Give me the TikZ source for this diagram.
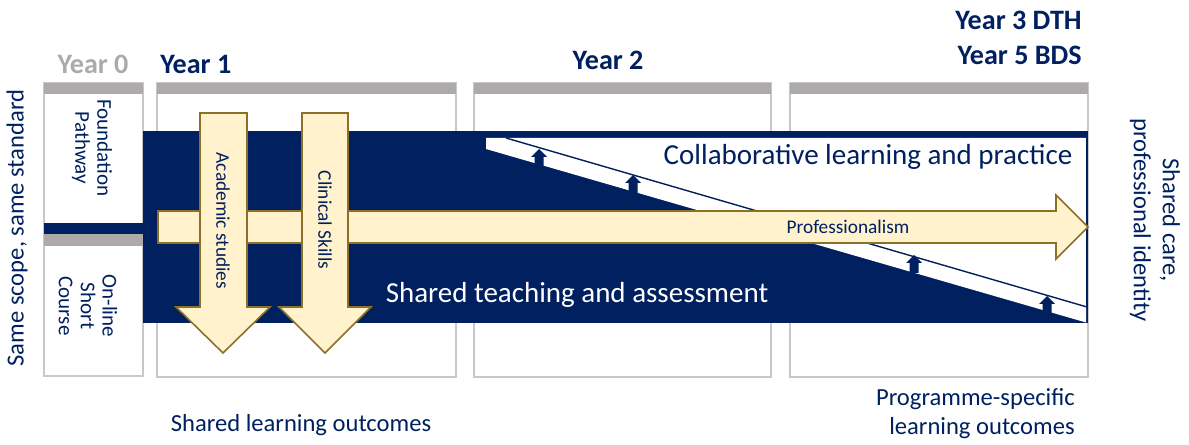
\documentclass[tikz,border=0pt]{standalone}
\usepackage{fontspec}
\setmainfont{Carlito}
\usepackage{tikz}
\usetikzlibrary{positioning,calc}
\definecolor{navy}{RGB}{0,32,96}
\definecolor{bargray}{RGB}{174,170,170}
\definecolor{boxgray}{RGB}{200,200,200}
\definecolor{cream}{RGB}{255,242,204}
\definecolor{goldline}{RGB}{140,112,40}

\begin{document}
\begin{tikzpicture}[
    x=0.02cm, y=-0.02cm,
    yearbox/.style={draw=boxgray, fill=white, line width=0.6pt},
    yearbar/.style={fill=bargray},
    yearlabel/.style={font=\fontsize{16}{19}\selectfont\bfseries, text=navy, inner sep=0pt},
    sidetext/.style={font=\fontsize{14}{16.5}\selectfont, text=navy, align=center, inner sep=0pt},
    boxtext/.style={font=\fontsize{12}{12.5}\selectfont, text=navy, align=center, inner sep=0pt},
    bandtext/.style={font=\fontsize{16.5}{19}\selectfont, inner sep=0pt},
    arrowtext/.style={font=\fontsize{11}{13}\selectfont, text=navy, inner sep=0pt},
    blockarrow/.style={fill=cream, draw=goldline, line width=0.9pt, line join=miter},
    uparrow/.style={fill=navy}
]
\useasboundingbox (0,0) rectangle (1189,445);

% Year columns
\draw[yearbox] (44,83) rectangle (143,376);
\draw[yearbox] (157,83) rectangle (456,377);
\draw[yearbox] (474,83) rectangle (771,377);
\draw[yearbox] (790,83) rectangle (1088,377);
\fill[yearbar] (44,83) rectangle (143,94);
\fill[yearbar] (157,83) rectangle (456,94);
\fill[yearbar] (474,83) rectangle (771,94);
\fill[yearbar] (790,83) rectangle (1088,94);

% Year 0 split
\fill[navy] (44,223) rectangle (143,234);
\fill[bargray] (44,234) rectangle (143,246);

% Shared band and collaborative wedge
\fill[navy] (143,131) rectangle (1088,323);
\fill[white] (486,138) -- (1086,138) -- (1086,322.5) -- (486,149) -- cycle;
\draw[navy, line width=1.2pt] (1087,131) -- (1087,307);
\draw[navy, line width=0.8pt] (506,138) -- (1087,307);
\foreach \tx/\ty in {539/149, 633/175, 914/255, 1047/296}
  \fill[uparrow] (\tx,\ty) -- ++(8,8) -- ++(-3.5,0) -- ++(0,10) -- ++(-9,0)
    -- ++(0,-10) -- ++(-3.5,0) -- cycle;

% Year labels
\node[yearlabel, text=bargray, anchor=base] (yr0) at (93,74) {Year 0};
\node[yearlabel, anchor=base west] (yr1) at (160,74) {Year 1};
\node[yearlabel, anchor=base] (yr2) at (608,70) {Year 2};
\node[yearlabel, anchor=base east] (yr3) at (1082,30) {Year 3 DTH};
\node[yearlabel, anchor=base east] (yr5) at ($(yr3.base east)+(0,35)$) {Year 5 BDS};

% Year 0 boxes
\node[boxtext, rotate=-90] (found) at (92,148) {Foundation\\Pathway};
\node[boxtext, rotate=-90] (online) at (88,306) {On-line\\Short\\Course};

% Band texts
\node[bandtext, text=navy] (collab) at (868,157) {Collaborative learning and practice};
\node[bandtext, text=white] (teach) at (577,295) {Shared teaching and assessment};

% Professionalism arrow
\filldraw[blockarrow] (158,211) -- (1056,211) -- (1056,195) -- (1088,227)
  -- (1056,259) -- (1056,243) -- (158,243) -- cycle;
\node[arrowtext] (prof) at (848,227) {Professionalism};

% Year 1 arrows
\filldraw[blockarrow] (200,113) -- (247,113) -- (247,307) -- (270,307)
  -- (223,353) -- (176,307) -- (200,307) -- cycle;
\filldraw[blockarrow] (302,113) -- (348,113) -- (348,307) -- (371,307)
  -- (325,353) -- (279,307) -- (302,307) -- cycle;
\node[arrowtext, rotate=-90] (acad) at (223,221) {Academic studies};
\node[arrowtext, rotate=-90] (clin) at (325,220) {Clinical Skills};

% Side and bottom texts
\node[sidetext, rotate=90] (scope) at (17,228) {Same scope, same standard};
\node[sidetext, rotate=-90] (care) at (1155,220) {Shared care,\\professional identity};
\node[sidetext, anchor=base] (sharedlo) at (301,432) {Shared learning outcomes};
\node[sidetext, align=right, anchor=east] (progspec) at (1075,414) {Programme-specific\\learning outcomes};

\end{tikzpicture}
\end{document}
